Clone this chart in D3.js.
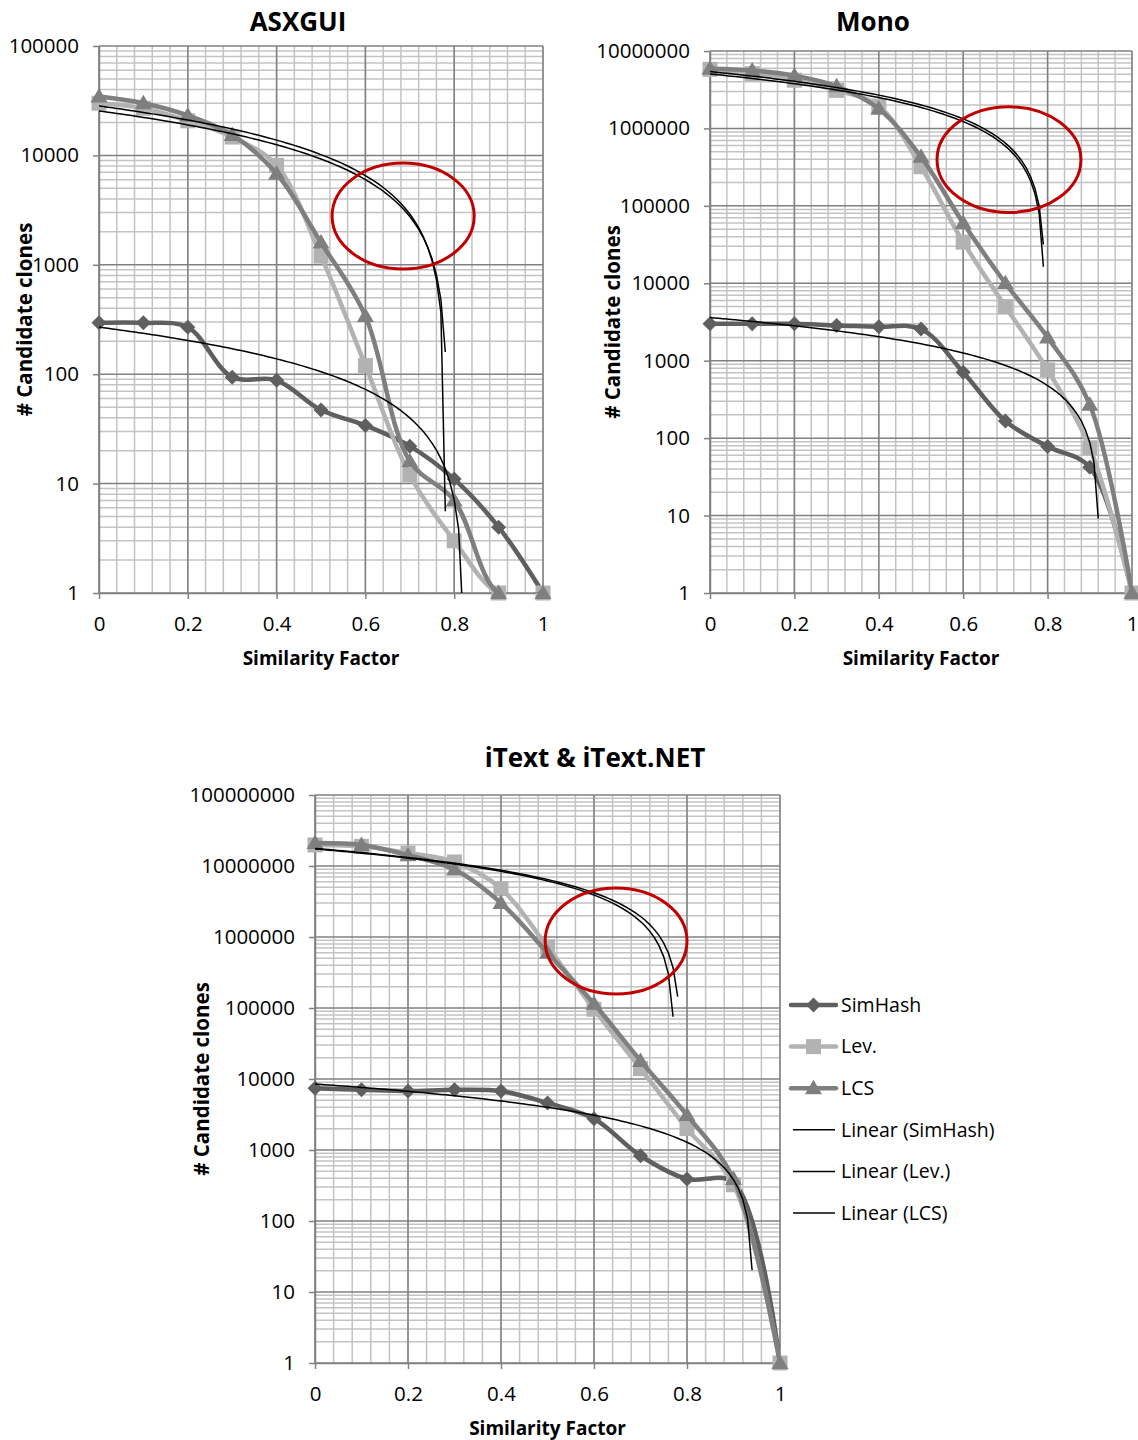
<!DOCTYPE html>
<html>
<head>
<meta charset="utf-8">
<script src="https://cdn.jsdelivr.net/npm/d3@7"></script>
<style>
body { margin: 0; background: #fff; }
text { font-family: "Open Sans", sans-serif; fill: #000; }
</style>
</head>
<body>
<svg id="chart" width="1138" height="1440"></svg>
<script>
// similarity factor steps (x axis)
var simFactor = [0, 0.1, 0.2, 0.3, 0.4, 0.5, 0.6, 0.7, 0.8, 0.9, 1];
var xTicks = [0, 0.2, 0.4, 0.6, 0.8, 1];
var seriesNames = ["SimHash", "Lev.", "LCS"];
var trendNames = ["Linear (SimHash)", "Linear (Lev.)", "Linear (LCS)"];

// ASXGUI
var asxSimHash = [295, 295, 268, 94, 88, 47, 34, 22, 11, 4, 1];
var asxLev = [30000, 27000, 20700, 14700, 8100, 1200, 120, 12, 3, 1, 1];
var asxLcs = [34500, 30000, 23200, 15400, 6800, 1600, 340, 16, 7, 1, 1];
var asxTicks = [1, 10, 100, 1000, 10000, 100000];

// Mono
var monoSimHash = [3000, 3000, 3000, 2850, 2740, 2570, 710, 166, 78, 42, 1];
var monoLev = [5800000, 5100000, 4200000, 3100000, 1950000, 320000, 34000, 5000, 760, 75, 1];
var monoLcs = [5900000, 5600000, 4800000, 3500000, 1800000, 430000, 60000, 10000, 2000, 270, 1];
var monoTicks = [1, 10, 100, 1000, 10000, 100000, 1000000, 10000000];

// iText & iText.NET
var itextSimHash = [7400, 7050, 6750, 7050, 6750, 4600, 2750, 830, 390, 350, 1];
var itextLev = [19800000, 18900000, 15200000, 11400000, 4800000, 725000, 96000, 14000, 2000, 324, 1];
var itextLcs = [21000000, 19800000, 14200000, 8900000, 3000000, 600000, 115000, 18000, 3100, 390, 1];
var itextTicks = [1, 10, 100, 1000, 10000, 100000, 1000000, 10000000, 100000000];

var colors = ["#5f5f5f", "#b2b2b2", "#7f7f7f"];
var majorGrid = "#808080";
var minorGrid = "#c3c3c3";

var svg = d3.select("#chart");

var markerPath = {
  diamond: "M0,-7.5L7.5,0L0,7.5L-7.5,0Z",
  square: "M-7.5,-7.5H7.5V7.5H-7.5Z",
  triangle: "M0,-8.5L8.5,6L-8.5,6Z"
};
var markers = ["diamond", "square", "triangle"];

// least squares linear trend, as Excel's "Linear" trendline
function linearFit(xs, ys) {
  var mx = d3.mean(xs), my = d3.mean(ys);
  var sxy = d3.sum(xs, function(x, i) { return (x - mx) * (ys[i] - my); });
  var sxx = d3.sum(xs, function(x) { return (x - mx) * (x - mx); });
  var b = sxy / sxx;
  return [my - b * mx, b];
}

var charts = [
  {id: "asx", title: "ASXGUI", titleX: 298, titleY: 31,
   left: 99, right: 543, top: 46, bottom: 593, yTitleX: 25,
   series: [asxSimHash, asxLev, asxLcs], ticks: asxTicks,
   ellipse: [0.525, 0.845, 915, 8500]},
  {id: "mono", title: "Mono", titleX: 873, titleY: 31,
   left: 710, right: 1132, top: 51, bottom: 593, yTitleX: 613,
   series: [monoSimHash, monoLev, monoLcs], ticks: monoTicks,
   ellipse: [0.538, 0.879, 82000, 1900000]},
  {id: "itext", title: "iText & iText.NET", titleX: 595, titleY: 767,
   left: 315, right: 780, top: 795, bottom: 1363, yTitleX: 202,
   series: [itextSimHash, itextLev, itextLcs], ticks: itextTicks,
   ellipse: [0.495, 0.8, 157000, 4900000]}
];

function drawChart(c) {
  var x = d3.scaleLinear().domain([0, 1]).range([c.left, c.right]);
  var y = d3.scaleLog().domain([1, c.ticks[c.ticks.length - 1]]).range([c.bottom, c.top]);
  var g = svg.append("g").attr("class", "chart-" + c.id);

  // minor grid
  var minorX = d3.range(0, 26).map(function(i) { return i / 25; });
  var minorY = [];
  c.ticks.slice(0, -1).forEach(function(t) {
    for (var k = 2; k < 10; k++) minorY.push(t * k);
  });
  g.append("g").selectAll("line").data(minorX).enter().append("line")
    .attr("x1", function(d) { return x(d); }).attr("x2", function(d) { return x(d); })
    .attr("y1", c.top).attr("y2", c.bottom)
    .attr("stroke", minorGrid).attr("stroke-width", 1.5);
  g.append("g").selectAll("line").data(minorY).enter().append("line")
    .attr("x1", c.left).attr("x2", c.right)
    .attr("y1", function(d) { return y(d); }).attr("y2", function(d) { return y(d); })
    .attr("stroke", minorGrid).attr("stroke-width", 1.5);

  // major grid
  g.append("g").selectAll("line").data(xTicks).enter().append("line")
    .attr("x1", function(d) { return x(d); }).attr("x2", function(d) { return x(d); })
    .attr("y1", c.top).attr("y2", c.bottom)
    .attr("stroke", majorGrid).attr("stroke-width", 1.5);
  g.append("g").selectAll("line").data(c.ticks).enter().append("line")
    .attr("x1", c.left).attr("x2", c.right)
    .attr("y1", function(d) { return y(d); }).attr("y2", function(d) { return y(d); })
    .attr("stroke", majorGrid).attr("stroke-width", 1.5);

  // axes
  var xAxis = d3.axisBottom(x).tickValues(xTicks).tickSize(6).tickSizeOuter(0).tickPadding(17)
    .tickFormat(function(d) { return d3.format("")(d); });
  var yAxis = d3.axisLeft(y).tickValues(c.ticks).tickSize(6).tickSizeOuter(0).tickPadding(14)
    .tickFormat(d3.format("d"));

  var gx = g.append("g").attr("transform", "translate(0," + c.bottom + ")").call(xAxis);
  var gy = g.append("g").attr("transform", "translate(" + c.left + ",0)").call(yAxis);
  [gx, gy].forEach(function(a) {
    a.select(".domain").attr("stroke", majorGrid).attr("stroke-width", 1.5);
    a.selectAll(".tick line").attr("stroke", majorGrid).attr("stroke-width", 1.5);
    a.selectAll(".tick text").style("font-family", "'Open Sans', sans-serif")
      .style("font-size", "20.5px").attr("fill", "#000");
  });

  // clip area for lines (markers are drawn unclipped, like Excel)
  g.append("clipPath").attr("id", "clip-" + c.id)
    .append("rect").attr("x", c.left).attr("y", c.top)
    .attr("width", c.right - c.left).attr("height", c.bottom - c.top);

  // series
  var line = d3.line()
    .x(function(d, i) { return x(simFactor[i]); })
    .y(function(d) { return y(d); })
    .curve(d3.curveCatmullRom.alpha(0.5));

  c.series.forEach(function(s, si) {
    var sg = g.append("g").attr("class", "series");
    sg.append("path").datum(s)
      .attr("clip-path", "url(#clip-" + c.id + ")")
      .attr("d", line)
      .attr("fill", "none")
      .attr("stroke", colors[si])
      .attr("stroke-width", 4.5)
      .attr("stroke-linejoin", "round");
    sg.selectAll("path.mark").data(s).enter().append("path")
      .attr("class", "mark")
      .attr("d", markerPath[markers[si]])
      .attr("transform", function(d, i) { return "translate(" + x(simFactor[i]) + "," + y(d) + ")"; })
      .attr("fill", colors[si]);
  });

  // trend lines
  var steps = d3.range(0, 101).map(function(i) { return i / 100; });
  var tg = g.append("g").attr("clip-path", "url(#clip-" + c.id + ")");
  c.series.forEach(function(s) {
    var fit = linearFit(simFactor, s);
    var pts = steps.map(function(t) { return [t, fit[0] + fit[1] * t]; })
      .filter(function(p) { return p[1] > 0; });
    tg.append("path").datum(pts)
      .attr("d", d3.line()
        .x(function(p) { return x(p[0]); })
        .y(function(p) { return y(Math.max(p[1], 1e-3)); }))
      .attr("fill", "none")
      .attr("stroke", "#000")
      .attr("stroke-width", 1.5);
  });

  // red ellipse annotation
  var e = c.ellipse;
  g.append("ellipse")
    .attr("cx", (x(e[0]) + x(e[1])) / 2)
    .attr("cy", (y(e[2]) + y(e[3])) / 2)
    .attr("rx", (x(e[1]) - x(e[0])) / 2)
    .attr("ry", (y(e[2]) - y(e[3])) / 2)
    .attr("fill", "none")
    .attr("stroke", "#c00000")
    .attr("stroke-width", 3);

  // titles
  g.append("text")
    .attr("x", c.titleX).attr("y", c.titleY)
    .attr("text-anchor", "middle")
    .style("font-size", "26px").style("font-weight", "bold")
    .text(c.title);
  g.append("text")
    .attr("x", (c.left + c.right) / 2).attr("y", c.bottom + 72)
    .attr("text-anchor", "middle")
    .style("font-size", "19px").style("font-weight", "bold")
    .text("Similarity Factor");
  g.append("text")
    .attr("transform", "translate(" + (c.yTitleX + 7) + "," + ((c.top + c.bottom) / 2) + ") rotate(-90)")
    .attr("text-anchor", "middle")
    .style("font-size", "20.5px").style("font-weight", "bold")
    .text("# Candidate clones");
}

charts.forEach(drawChart);

// legend (next to the iText chart)
var legend = svg.append("g").attr("class", "legend");
var legendTop = 1005, legendStep = 41.6;
seriesNames.forEach(function(name, i) {
  var ly = legendTop + i * legendStep;
  legend.append("line").attr("x1", 791).attr("x2", 836).attr("y1", ly).attr("y2", ly)
    .attr("stroke", colors[i]).attr("stroke-width", 4.5).attr("stroke-linecap", "round");
  legend.append("path").attr("d", markerPath[markers[i]])
    .attr("transform", "translate(813.5," + ly + ")").attr("fill", colors[i]);
  legend.append("text").attr("x", 841).attr("y", ly).attr("dy", "0.35em")
    .style("font-size", "19.5px").text(name);
});
trendNames.forEach(function(name, i) {
  var ly = legendTop + (i + 3) * legendStep;
  legend.append("line").attr("x1", 793).attr("x2", 835).attr("y1", ly).attr("y2", ly)
    .attr("stroke", "#000").attr("stroke-width", 1.5);
  legend.append("text").attr("x", 841).attr("y", ly).attr("dy", "0.35em")
    .style("font-size", "19.5px").text(name);
});
</script>
</body>
</html>
